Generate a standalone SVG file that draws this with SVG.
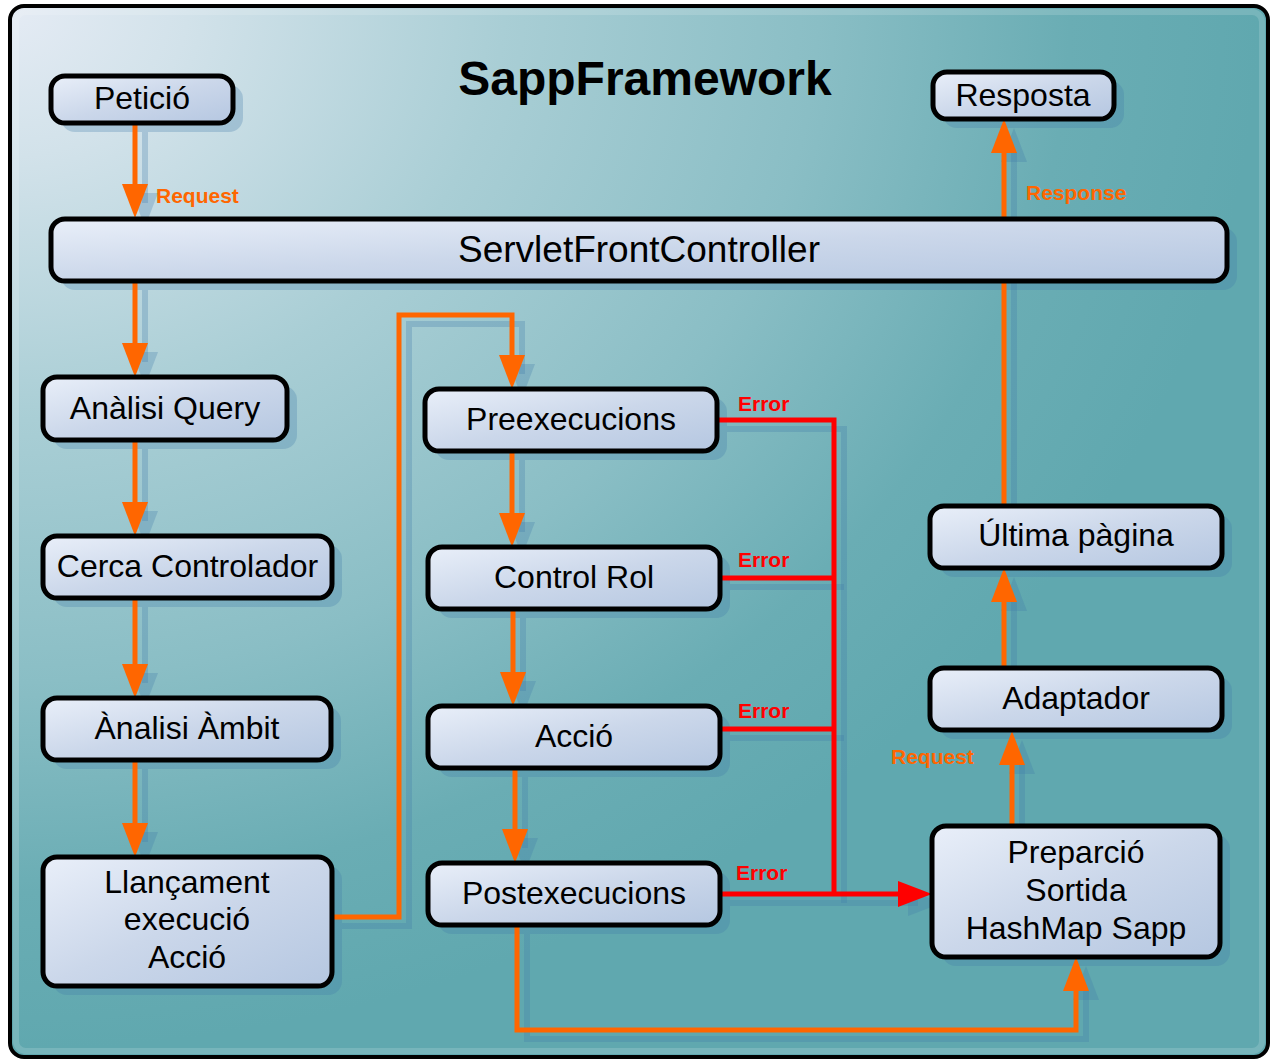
<svg xmlns="http://www.w3.org/2000/svg" width="1271" height="1061" viewBox="0 0 1271 1061">
<defs>
<radialGradient id="bg" gradientUnits="userSpaceOnUse" cx="0" cy="0" r="1050" gradientTransform="scale(1.2,1)">
<stop offset="0" stop-color="#e6ecf5"/>
<stop offset="0.15" stop-color="#d2e2ea"/>
<stop offset="0.4" stop-color="#a9ced5"/>
<stop offset="0.65" stop-color="#8abec5"/>
<stop offset="0.85" stop-color="#6aadb4"/>
<stop offset="1" stop-color="#60a8af"/>
</radialGradient>
<linearGradient id="nodefill" x1="0" y1="0" x2="1" y2="1">
<stop offset="0" stop-color="#e9eff9"/>
<stop offset="0.5" stop-color="#cbd7ea"/>
<stop offset="1" stop-color="#b5c7e1"/>
</linearGradient>
<marker id="ao" markerUnits="userSpaceOnUse" markerWidth="34" markerHeight="26" refX="10" refY="13" orient="auto">
<path d="M0,0 L34,13 L0,26 Z" fill="#ff6600"/>
</marker>
<marker id="ar" markerUnits="userSpaceOnUse" markerWidth="34" markerHeight="26" refX="10" refY="13" orient="auto">
<path d="M0,0 L34,13 L0,26 Z" fill="#ff0000"/>
</marker>
<marker id="as" markerUnits="userSpaceOnUse" markerWidth="34" markerHeight="26" refX="10" refY="13" orient="auto">
<path d="M0,0 L34,13 L0,26 Z" fill="#3f7aa8" fill-opacity="0.28"/>
</marker>
<style>
.node rect{fill:url(#nodefill);stroke:#000;stroke-width:5}
.node text{font-family:"Liberation Sans",Arial,sans-serif;font-size:32px;fill:#000;text-anchor:middle}
.sh rect{fill:#3f7aa8;fill-opacity:0.28;stroke:none}
.sh path{fill:none;stroke:#3f7aa8;stroke-opacity:0.28;stroke-width:6}
.co{fill:none;stroke:#ff6600;stroke-width:5;marker-end:url(#ao)}
.cr{fill:none;stroke:#ff0000;stroke-width:5}
.cra{fill:none;stroke:#ff0000;stroke-width:5;marker-end:url(#ar)}
.lo{font-family:"Liberation Sans",Arial,sans-serif;font-size:21px;font-weight:bold;fill:#ff6600}
.lr{font-family:"Liberation Sans",Arial,sans-serif;font-size:21px;font-weight:bold;fill:#ff0000}
</style>
</defs>

<rect x="10" y="6" width="1258" height="1051" rx="14" fill="url(#bg)" stroke="#000" stroke-width="4"/>
<rect x="16" y="12" width="1246" height="1039" rx="10" fill="none" stroke="#ffffff" stroke-opacity="0.15" stroke-width="6"/>

<text x="645" y="95" font-family="Liberation Sans, Arial, sans-serif" font-size="48" font-weight="bold" text-anchor="middle" fill="#000">SappFramework</text>

<g id="shadows" class="sh" transform="translate(10,9)">
<rect x="51" y="76" width="182" height="47" rx="14"/>
<rect x="933" y="72" width="181" height="47" rx="14"/>
<rect x="51" y="219" width="1176" height="62" rx="14"/>
<rect x="43" y="377" width="244" height="63" rx="14"/>
<rect x="43" y="536" width="289" height="62" rx="14"/>
<rect x="43" y="698" width="288" height="62" rx="14"/>
<rect x="43" y="857" width="289" height="129" rx="14"/>
<rect x="425" y="389" width="292" height="62" rx="14"/>
<rect x="428" y="547" width="292" height="62" rx="14"/>
<rect x="428" y="706" width="292" height="62" rx="14"/>
<rect x="428" y="863" width="292" height="62" rx="14"/>
<rect x="930" y="506" width="292" height="62" rx="14"/>
<rect x="930" y="668" width="292" height="62" rx="14"/>
<rect x="932" y="826" width="288" height="131" rx="14"/>
<path d="M135,123 V194" marker-end="url(#as)"/>
<path d="M135,281 V353" marker-end="url(#as)"/>
<path d="M135,440 V512" marker-end="url(#as)"/>
<path d="M135,598 V674" marker-end="url(#as)"/>
<path d="M135,760 V833" marker-end="url(#as)"/>
<path d="M332,917 H399 V315 H512 V365" marker-end="url(#as)"/>
<path d="M512,451 V523" marker-end="url(#as)"/>
<path d="M513,609 V682" marker-end="url(#as)"/>
<path d="M515,768 V839" marker-end="url(#as)"/>
<path d="M517,925 V1030 H1076 V981" marker-end="url(#as)"/>
<path d="M1012,826 V755" marker-end="url(#as)"/>
<path d="M1004,668 V592" marker-end="url(#as)"/>
<path d="M1004,506 V143" marker-end="url(#as)"/>
<path d="M717,420 H834 V894"/>
<path d="M720,578 H834"/>
<path d="M720,729 H834"/>
<path d="M720,894 H908" marker-end="url(#as)"/>
</g>

<g id="connectors">
<path id="c1" class="co" d="M135,123 V194"/>
<path id="c2" class="co" d="M135,281 V353"/>
<path id="c3" class="co" d="M135,440 V512"/>
<path id="c4" class="co" d="M135,598 V674"/>
<path id="c5" class="co" d="M135,760 V833"/>
<path id="c6" class="co" d="M332,917 H399 V315 H512 V365"/>
<path id="c7" class="co" d="M512,451 V523"/>
<path id="c8" class="co" d="M513,609 V682"/>
<path id="c9" class="co" d="M515,768 V839"/>
<path id="c10" class="co" d="M517,925 V1030 H1076 V981"/>
<path id="c11" class="co" d="M1012,826 V755"/>
<path id="c12" class="co" d="M1004,668 V592"/>
<path id="c13" class="co" d="M1004,506 V143"/>
<path id="e1" class="cr" d="M717,420 H834 V894"/>
<path id="e2" class="cr" d="M720,578 H834"/>
<path id="e3" class="cr" d="M720,729 H834"/>
<path id="e4" class="cra" d="M720,894 H908"/>
<text class="lo" x="156" y="203">Request</text>
<text class="lo" x="1026" y="200">Response</text>
<text class="lo" x="891" y="764">Request</text>
<text class="lr" x="738" y="411">Error</text>
<text class="lr" x="738" y="567">Error</text>
<text class="lr" x="738" y="718">Error</text>
<text class="lr" x="736" y="880">Error</text>
</g>

<g id="peticio" class="node"><rect x="51" y="76" width="182" height="47" rx="14"/><text x="142" y="109">Petició</text></g>
<g id="resposta" class="node"><rect x="933" y="72" width="181" height="47" rx="14"/><text x="1023" y="106">Resposta</text></g>
<g id="servlet" class="node"><rect x="51" y="219" width="1176" height="62" rx="14"/><text x="639" y="262" style="font-size:37px">ServletFrontController</text></g>
<g id="analisiquery" class="node"><rect x="43" y="377" width="244" height="63" rx="14"/><text x="165" y="419">Anàlisi Query</text></g>
<g id="cercacontrolador" class="node"><rect x="43" y="536" width="289" height="62" rx="14"/><text x="187.5" y="577">Cerca Controlador</text></g>
<g id="analisiambit" class="node"><rect x="43" y="698" width="288" height="62" rx="14"/><text x="187" y="739">Ànalisi Àmbit</text></g>
<g id="llancament" class="node"><rect x="43" y="857" width="289" height="129" rx="14"/><text x="187" y="893">Llançament</text><text x="187" y="930">execució</text><text x="187" y="968">Acció</text></g>
<g id="preexecucions" class="node"><rect x="425" y="389" width="292" height="62" rx="14"/><text x="571" y="430">Preexecucions</text></g>
<g id="controlrol" class="node"><rect x="428" y="547" width="292" height="62" rx="14"/><text x="574" y="588">Control Rol</text></g>
<g id="accio" class="node"><rect x="428" y="706" width="292" height="62" rx="14"/><text x="574" y="747">Acció</text></g>
<g id="postexecucions" class="node"><rect x="428" y="863" width="292" height="62" rx="14"/><text x="574" y="904">Postexecucions</text></g>
<g id="ultimapagina" class="node"><rect x="930" y="506" width="292" height="62" rx="14"/><text x="1076" y="546">Última pàgina</text></g>
<g id="adaptador" class="node"><rect x="930" y="668" width="292" height="62" rx="14"/><text x="1076" y="709">Adaptador</text></g>
<g id="preparcio" class="node"><rect x="932" y="826" width="288" height="131" rx="14"/><text x="1076" y="863">Preparció</text><text x="1076" y="901">Sortida</text><text x="1076" y="939">HashMap Sapp</text></g>
</svg>
